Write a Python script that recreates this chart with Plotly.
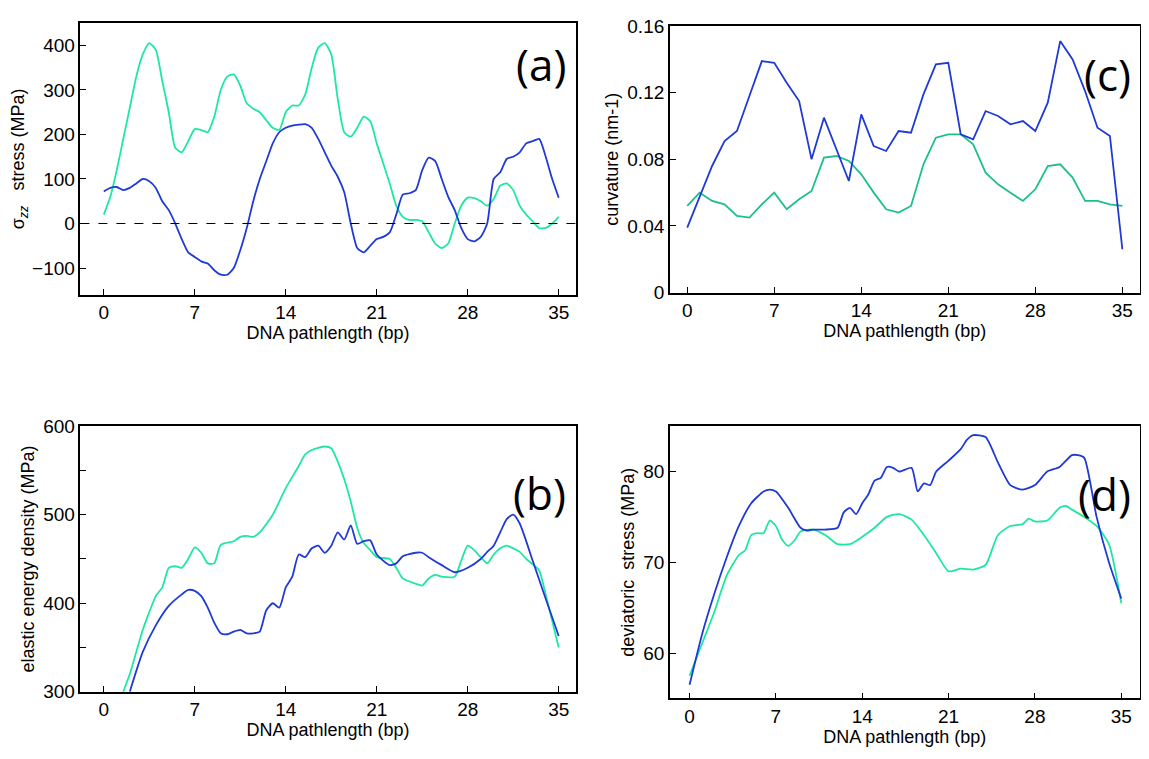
import plotly.graph_objects as go

GREEN = "#1ee8a0"
GREEN_C = "#1dbf8a"
BLUE = "#1f3ad6"

# (a) sigma_zz stress
a_x = [0, 0.5, 1, 1.5, 2, 2.5, 3, 3.5, 4, 4.5, 5, 5.5, 6, 6.5, 7, 7.5, 8, 8.5, 9, 9.5, 10, 10.5, 11, 11.5, 12, 12.5,
       13, 13.5, 14, 14.5, 15, 15.5, 16, 16.5, 17, 17.5, 18, 18.5, 19, 19.5, 20, 20.5, 21, 21.5, 22, 22.5, 23, 23.5,
       24, 24.5, 25, 25.5, 26, 26.5, 27, 27.5, 28, 28.5, 29, 29.5, 30, 30.5, 31, 31.5, 32, 32.5, 33, 33.5, 34, 34.5, 35]
a_green = [20, 60, 120, 190, 260, 330, 380, 405, 390, 320, 250, 170, 160, 185, 212, 210, 205, 240, 300, 330, 335, 310,
           270, 258, 250, 232, 215, 210, 250, 265, 265, 290, 350, 395, 405, 380, 280, 205, 195, 215, 240, 230, 180, 135,
           90, 40, 15, 8, 8, 5, -20, -45, -55, -45, 0, 40, 58, 57, 50, 40, 55, 85, 90, 75, 40, 20, 5, -10, -10, 0, 15]
a_blue = [72, 80, 82, 75, 80, 90, 100, 95, 80, 50, 30, 0, -35, -65, -75, -85, -90, -105, -115, -115, -100, -60, -10,
          50, 100, 140, 180, 205, 215, 220, 222, 223, 215, 190, 160, 130, 105, 70, 0, -55, -65, -50, -35, -30, -20, 20,
          65, 68, 75, 120, 148, 140, 100, 60, 30, -10, -35, -40, -30, 0, 100, 115, 145, 150, 160, 180, 185, 190, 150,
          100, 58]

# (c) curvature
c_x = list(range(36))
c_blue = [0.039, 0.057, 0.076, 0.091, 0.097, 0.118, 0.139, 0.138, 0.126, 0.115, 0.080, 0.105, 0.086, 0.067, 0.107,
          0.088, 0.085, 0.097, 0.096, 0.119, 0.137, 0.138, 0.095, 0.092, 0.109, 0.106, 0.101, 0.103, 0.097, 0.114,
          0.151, 0.140, 0.121, 0.099, 0.094, 0.026]
c_green = [0.052, 0.060, 0.055, 0.053, 0.046, 0.045, 0.053, 0.060, 0.050, 0.056, 0.061, 0.081, 0.082, 0.079, 0.071,
           0.060, 0.050, 0.048, 0.052, 0.077, 0.093, 0.095, 0.095, 0.089, 0.072, 0.065, 0.060, 0.055, 0.062, 0.076,
           0.077, 0.069, 0.055, 0.055, 0.053, 0.052]

# (b) elastic energy density
b_gx = [1.5, 2, 3, 3.5, 4, 4.5, 5, 5.5, 6, 6.5, 7, 7.5, 8, 8.5, 9, 10, 10.5, 11, 11.5, 12, 13, 14, 15, 15.5, 16, 17,
        17.5, 18, 18.5, 19, 19.5, 20, 20.5, 21, 22, 22.5, 23, 24, 24.5, 25, 25.5, 26, 27, 27.5, 28, 28.5, 29, 29.5,
        30, 30.5, 31, 31.5, 32, 32.5, 33, 33.5, 34, 35]
b_green = [300, 320, 370, 390, 408, 418, 440, 442, 440, 450, 463, 457, 445, 445, 466, 470, 475, 476, 475, 480, 500,
           530, 555, 568, 573, 577, 575, 560, 540, 515, 485, 468, 460, 452, 450, 440, 428, 422, 420, 428, 432, 430,
           430, 448, 465, 460, 452, 445, 455, 462, 465, 462, 458, 450, 444, 437, 410, 350]
b_bx = [2, 3, 4, 5, 6, 6.5, 7, 7.5, 8, 8.5, 9, 9.5, 10, 10.5, 11, 11.5, 12, 12.5, 13, 13.5, 14, 14.5, 15, 15.5, 16,
        16.5, 17, 17.5, 18, 18.5, 19, 19.5, 20, 20.5, 21, 22, 22.5, 23, 24, 24.5, 25, 26, 27, 28, 29, 29.5, 30, 30.5,
        31, 31.5, 32, 33, 34, 35]
b_blue = [300, 345, 375, 397, 410, 415, 414, 408, 395, 378, 366, 365, 368, 370, 366, 366, 368, 392, 400, 395, 418, 430,
          455, 452, 462, 465, 457, 465, 480, 472, 488, 467, 470, 471, 455, 443, 445, 453, 457, 457, 452, 443, 435, 440,
          450, 458, 465, 480, 495, 500, 490, 448, 405, 363]

# (d) deviatoric stress
d_bx = [0, 1, 2, 3, 4, 5, 6, 6.5, 7, 8, 9, 9.5, 10, 11, 12, 12.5, 13, 13.5, 14, 14.5, 15, 15.5, 16, 16.5, 17, 18, 18.5,
        19, 19.5, 20, 21, 22, 22.5, 23, 24, 25, 26, 27, 28, 29, 30, 31, 31.5, 32, 33, 34, 35]
d_blue = [56.5, 62, 66.5, 70.5, 74, 76.5, 77.8, 78, 77.8, 76, 73.8, 73.5, 73.6, 73.6, 73.8, 75.5, 76, 75.3, 76.5, 77.5,
          79, 79.3, 80.5, 80.4, 80, 80.4, 77.8, 78.7, 78.5, 80, 81.2, 82.5, 83.5, 84, 83.8, 81, 78.5, 78, 78.5, 80,
          80.5, 81.8, 81.8, 81.5, 75, 70, 66]
d_gx = [0, 1, 2, 3, 4, 4.5, 5, 5.5, 6, 6.5, 7, 7.5, 8, 8.5, 9, 10, 11, 12, 13, 14, 15, 16, 17, 18, 19, 20, 21, 22, 23,
        24, 25, 26, 27, 27.5, 28, 29, 30, 30.5, 31, 32, 33, 34, 35]
d_green = [57.5, 61, 64.5, 68.5, 70.8, 71.3, 73, 73.2, 73.2, 74.6, 74, 72.5, 71.8, 72.4, 73.4, 73.6, 73, 72, 72, 72.8,
           73.8, 75, 75.3, 74.7, 73, 71, 69, 69.3, 69.2, 69.7, 73, 74, 74.2, 74.8, 74.5, 74.6, 76, 76.2, 75.8, 75, 74,
           72, 65.5]

x_ticks = [0, 7, 14, 21, 28, 35]
FONT = "Liberation Sans"
TFONT = dict(size=18, family=FONT, color="black")

fig = go.Figure()


def line(x, y, color, ax, shape="spline"):
    fig.add_trace(go.Scatter(x=x, y=y, mode="lines", line=dict(color=color, width=1.8, shape=shape, smoothing=0.6),
                             xaxis="x" + ax, yaxis="y" + ax, showlegend=False, hoverinfo="skip"))


line(a_x, a_green, GREEN, "")
line(a_x, a_blue, BLUE, "")
line(c_x, c_green, GREEN_C, "2", "linear")
line(c_x, c_blue, BLUE, "2", "linear")
line(b_gx, b_green, GREEN, "3")
line(b_bx, b_blue, BLUE, "3")
line(d_gx, d_green, GREEN, "4")
line(d_bx, d_blue, BLUE, "4")

common = dict(showline=True, mirror=True, linecolor="black", linewidth=1.5, showgrid=False, zeroline=False,
              ticks="inside", ticklen=6, tickcolor="black", tickfont=dict(size=19, family=FONT, color="black"))
xcommon = dict(common, tickvals=x_ticks, title=dict(text="DNA pathlength (bp)", font=TFONT, standoff=2))

fig.update_layout(
    width=1149, height=759, plot_bgcolor="white", paper_bgcolor="white",
    margin=dict(l=0, r=0, t=0, b=0),
    xaxis=dict(xcommon, domain=[0.063, 0.494], range=[-1.8, 36.3], anchor="y"),
    yaxis=dict(common, domain=[0.625, 0.993], range=[-160, 450], tickvals=[-100, 0, 100, 200, 300, 400], anchor="x",
               title=dict(text="σ<sub><i>zz</i></sub>   stress (MPa)", font=TFONT, standoff=4)),
    xaxis2=dict(xcommon, domain=[0.576, 0.985], range=[-1.4, 36.4], anchor="y2"),
    yaxis2=dict(common, domain=[0.628, 0.989], range=[0, 0.16], tickvals=[0, 0.04, 0.08, 0.12, 0.16],
                ticktext=["0", "0.04", "0.08", "0.12", "0.16"], anchor="x2",
                title=dict(text="curvature (nm-1)", font=TFONT, standoff=4)),
    xaxis3=dict(xcommon, domain=[0.063, 0.494], range=[-1.8, 36.3], anchor="y3"),
    yaxis3=dict(common, domain=[0.087, 0.447], range=[300, 600], tickvals=[300, 350, 400, 450, 500, 550, 600],
                ticktext=["300", "", "400", "", "500", "", "600"], anchor="x3",
                title=dict(text="elastic energy density (MPa)", font=TFONT, standoff=4)),
    xaxis4=dict(xcommon, domain=[0.576, 0.985], range=[-1.6, 36.5], anchor="y4"),
    yaxis4=dict(common, domain=[0.078, 0.447], range=[55, 85], tickvals=[60, 70, 80], anchor="x4",
                title=dict(text="deviatoric  stress (MPa)", font=TFONT, standoff=4)),
    shapes=[dict(type="line", xref="x domain", yref="y", x0=0, x1=1, y0=0, y1=0,
                 line=dict(color="black", width=1.2, dash="dash"))],
)

for text, xref, yref, y in [("(a)", "x domain", "y domain", 0.85), ("(c)", "x2 domain", "y2 domain", 0.82),
                            ("(b)", "x3 domain", "y3 domain", 0.75), ("(d)", "x4 domain", "y4 domain", 0.75)]:
    fig.add_annotation(text=text, xref=xref, yref=yref, x=0.985, y=y, xanchor="right", yanchor="middle",
                       showarrow=False, font=dict(size=44, family="Open Sans", color="black"))

fig.write_html("out.html")
